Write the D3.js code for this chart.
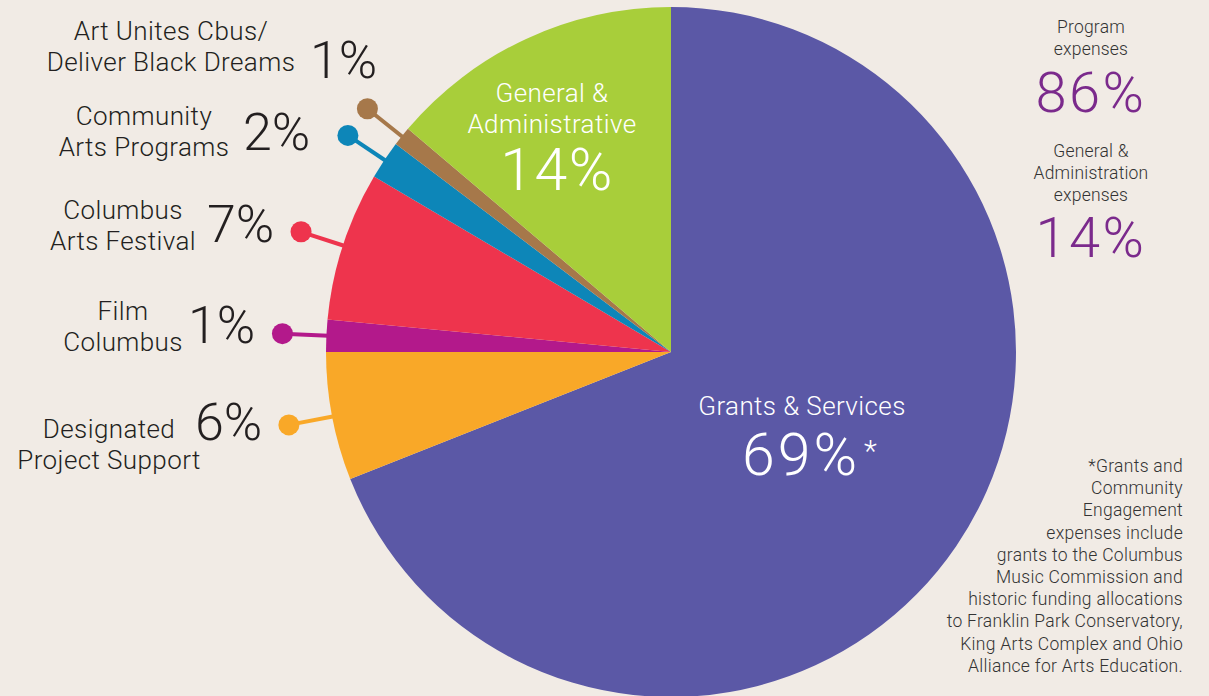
<html>
<head>
<script src="https://cdn.jsdelivr.net/npm/d3@7"></script>
<style>
  body { margin: 0; background: #f1ebe5; }
  svg { display: block; }
  text { font-family: Roboto, "Liberation Sans", sans-serif; font-weight: 300; }
</style>
</head>
<body>
<svg width="1209" height="696"></svg>
<script>
  // slice data, clockwise from 12 o'clock
  var categories = ["Grants & Services", "Designated Project Support", "Film Columbus",
                    "Columbus Arts Festival", "Community Arts Programs",
                    "Art Unites Cbus/Deliver Black Dreams", "General & Administrative"];
  var values = [69, 6, 1.5, 7, 1.8, 0.9, 13.8];
  var shownPct = ["69%", "6%", "1%", "7%", "2%", "1%", "14%"];
  var colors = ["#5b58a6", "#f9a828", "#b3198b", "#ee344d", "#0d86b8", "#a6784a", "#a8ce3a"];

  // outside label lines (name lines), index into categories
  var outsideNames = {
    1: ["Designated", "Project Support"],
    2: ["Film", "Columbus"],
    3: ["Columbus", "Arts Festival"],
    4: ["Community", "Arts Programs"],
    5: ["Art Unites Cbus/", "Deliver Black Dreams"]
  };

  var summaryLabels = [["Program", "expenses"], ["General &", "Administration", "expenses"]];
  var summaryValues = ["86%", "14%"];

  var footnote = ["*Grants and", "Community", "Engagement", "expenses include",
    "grants to the Columbus", "Music Commission and", "historic funding allocations",
    "to Franklin Park Conservatory,", "King Arts Complex and Ohio",
    "Alliance for Arts Education."];

  var svg = d3.select("svg");
  var cx = 671, cy = 352, r = 345, dotR = 389;

  var pie = d3.pie().sort(null).value(d => d);
  var arcs = pie(values);
  var arc = d3.arc().innerRadius(0).outerRadius(r);

  var g = svg.append("g").attr("transform", "translate(" + cx + "," + cy + ")");

  g.selectAll("path.slice").data(arcs).enter()
    .append("path")
    .attr("class", "slice")
    .attr("d", arc)
    .attr("fill", (d, i) => colors[i]);

  // leader lines + dots for the small slices
  var leaders = arcs.filter((d, i) => outsideNames[i]);
  function pt(a, rad) { return [rad * Math.sin(a), -rad * Math.cos(a)]; }
  g.selectAll("line.leader").data(leaders).enter()
    .append("line")
    .attr("x1", d => pt((d.startAngle + d.endAngle) / 2, r - 2)[0])
    .attr("y1", d => pt((d.startAngle + d.endAngle) / 2, r - 2)[1])
    .attr("x2", d => pt((d.startAngle + d.endAngle) / 2, dotR)[0])
    .attr("y2", d => pt((d.startAngle + d.endAngle) / 2, dotR)[1])
    .attr("stroke", d => colors[d.index])
    .attr("stroke-width", 4);
  g.selectAll("circle.dot").data(leaders).enter()
    .append("circle")
    .attr("cx", d => pt((d.startAngle + d.endAngle) / 2, dotR)[0])
    .attr("cy", d => pt((d.startAngle + d.endAngle) / 2, dotR)[1])
    .attr("r", 10.5)
    .attr("fill", d => colors[d.index]);

  // outside label placement: name center x, first baseline, pct x, pct baseline
  var labelPos = {
    1: [109, 438, 195, 440],
    2: [123, 320, 188, 343],
    3: [123, 219, 207, 242],
    4: [144, 125, 243, 150],
    5: [171, 40, 310, 78]
  };
  Object.keys(outsideNames).forEach(function (k) {
    var p = labelPos[k];
    var t = svg.append("text").attr("x", p[0]).attr("y", p[1])
      .attr("text-anchor", "middle").attr("font-size", 26).attr("letter-spacing", 0.4)
      .attr("fill", "#231f20");
    outsideNames[k].forEach(function (s, j) {
      t.append("tspan").attr("x", p[0]).attr("y", p[1] + j * 31).text(s);
    });
    svg.append("text").attr("x", p[2]).attr("y", p[3])
      .attr("font-size", 52).attr("fill", "#231f20").attr("font-weight", 400)
      .text(shownPct[k]);
  });

  // inside labels
  function white(x, y, size, s, ls) {
    return svg.append("text").attr("x", x).attr("y", y).attr("text-anchor", "middle")
      .attr("font-size", size).attr("letter-spacing", ls).attr("fill", "#fff").text(s);
  }
  white(552, 102, 26, "General &", 0.4);
  white(552, 133, 26, "Administrative", 0.4);
  white(557, 190, 59, shownPct[6], 1.5);
  white(802, 415, 26, categories[0], 0.4);

  svg.append("text").attr("x", 742).attr("y", 475)
    .attr("font-size", 59).attr("letter-spacing", 3).attr("fill", "#fff").text(shownPct[0]);
  svg.append("text").attr("x", 864).attr("y", 461)
    .attr("font-size", 30).attr("fill", "#fff").text("*");

  // summary on right
  var sumY = [[33, 55], [157, 179, 201]];
  var sumValY = [112, 257];
  summaryLabels.forEach(function (lines, i) {
    lines.forEach(function (s, j) {
      svg.append("text").attr("x", 1091).attr("y", sumY[i][j]).attr("text-anchor", "middle")
        .attr("font-size", 17.5).attr("letter-spacing", 0.2).attr("fill", "#333").text(s);
    });
    svg.append("text").attr("x", 1091).attr("y", sumValY[i]).attr("text-anchor", "middle")
      .attr("font-size", 56).attr("letter-spacing", 2.5).attr("fill", "#7b2a8c").text(summaryValues[i]);
  });

  // footnote
  footnote.forEach(function (s, i) {
    svg.append("text").attr("x", 1183).attr("y", 472 + i * 22.2).attr("text-anchor", "end")
      .attr("font-size", 17.5).attr("letter-spacing", 0.3).attr("fill", "#333").text(s);
  });
</script>
</body>
</html>
